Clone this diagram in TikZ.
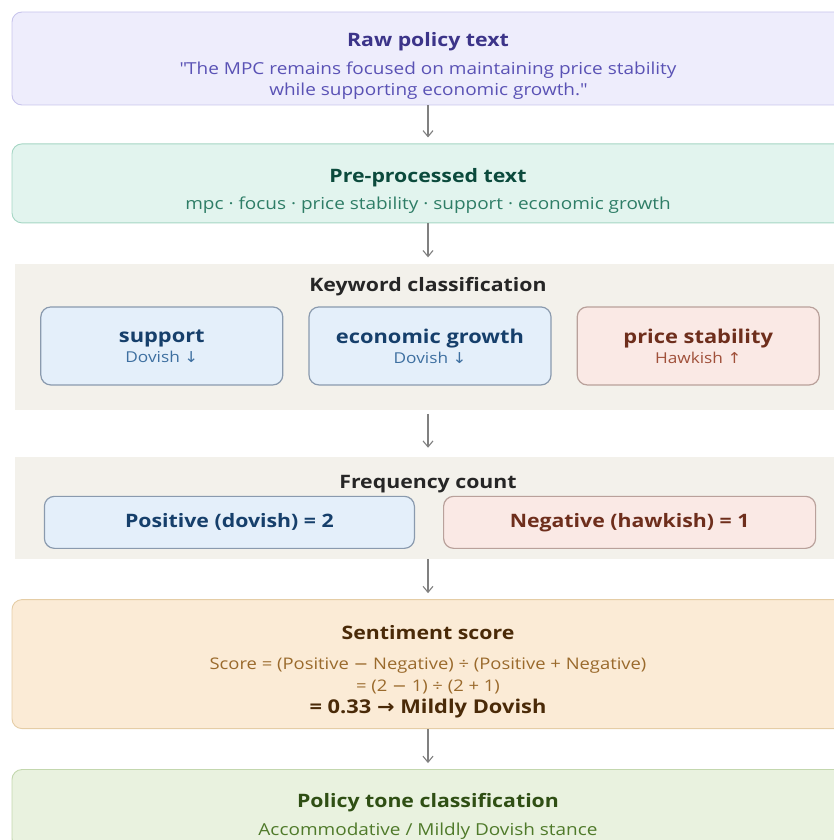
\documentclass[tikz,border=0pt]{standalone}
\usepackage{fontspec}
\setmainfont{Open Sans}[FakeStretch=1.15]
\newfontfamily\symfont{DejaVu Sans}[FakeStretch=1.1]
\usetikzlibrary{positioning,arrows.meta}

\definecolor{rawbg}{HTML}{EEEDFC}
\definecolor{rawline}{HTML}{C8C5EC}
\definecolor{rawtext}{HTML}{3C3489}
\definecolor{rawsub}{HTML}{5A52B5}
\definecolor{prebg}{HTML}{E2F4EE}
\definecolor{preline}{HTML}{A5D6C4}
\definecolor{pretext}{HTML}{0B4A3C}
\definecolor{presub}{HTML}{2E7D66}
\definecolor{panelbg}{HTML}{F3F1EB}
\definecolor{dovbg}{HTML}{E4EFFA}
\definecolor{dovline}{HTML}{8A9AAE}
\definecolor{dovtext}{HTML}{163F6B}
\definecolor{dovsub}{HTML}{3D6FA0}
\definecolor{hawkbg}{HTML}{FAE9E5}
\definecolor{hawkline}{HTML}{B9A19B}
\definecolor{hawktext}{HTML}{6E2E1C}
\definecolor{hawksub}{HTML}{A0503A}
\definecolor{sentbg}{HTML}{FBEBD6}
\definecolor{sentline}{HTML}{E5CDA6}
\definecolor{senttext}{HTML}{4A2A08}
\definecolor{sentsub}{HTML}{9A6A2C}
\definecolor{tonebg}{HTML}{E9F2DF}
\definecolor{toneline}{HTML}{C3D7AE}
\definecolor{tonetext}{HTML}{2F4F14}
\definecolor{tonesub}{HTML}{4F7A2A}
\definecolor{flowgray}{HTML}{808080}

\begin{document}
\begin{tikzpicture}[
  x=1pt,y=1pt,
  stage/.style={rounded corners=10pt,line width=0.9pt,minimum width=832pt,inner sep=0pt},
  panel/.style={fill=panelbg,minimum width=826pt,inner sep=0pt},
  kwbox/.style={rounded corners=10pt,line width=1.2pt,minimum width=242pt,minimum height=78pt,
    inner sep=0pt,align=center,font=\fontsize{15}{20}\selectfont},
  head/.style={font=\bfseries\fontsize{18.5}{22}\selectfont},
  note/.style={font=\fontsize{16.5}{21}\selectfont,align=center},
  flow/.style={draw=flowgray,line width=1.1pt,-{Straight Barb[length=6pt,width=10pt]},shorten >=6pt},
  node distance=38pt
]
  \useasboundingbox (0,0) rectangle (834,-840);

  % raw text
  \node[stage,fill=rawbg,draw=rawline,minimum height=93pt] (raw) at (428,-58.5) {};
  \node[head,text=rawtext] (rawhead) at ([yshift=-30pt]raw.north) {Raw policy text};
  \node[note,text=rawsub] (rawquote) at ([yshift=-69pt]raw.north)
    {\textquotedbl The MPC remains focused on maintaining price stability\\ while supporting economic growth.\textquotedbl};

  % pre-processing
  \node[stage,fill=prebg,draw=preline,minimum height=79pt,below=38pt of raw] (pre) {};
  \node[head,text=pretext] (prehead) at ([yshift=-34pt]pre.north) {Pre-processed text};
  \node[note,text=presub] (pretokens) at ([yshift=-62pt]pre.north)
    {mpc · focus · price stability · support · economic growth};

  % keyword classification
  \node[panel,minimum height=146pt,below=40pt of pre] (kw) {};
  \node[head,text=black!85] (kwhead) at ([yshift=-23pt]kw.north) {Keyword classification};
  \node[kwbox,fill=dovbg,draw=dovline,anchor=north] (growth) at ([xshift=2pt,yshift=-43pt]kw.north)
    {{\bfseries\fontsize{19}{22}\selectfont\color{dovtext}economic growth}\\{\color{dovsub}Dovish {\symfont↓}}};
  \node[kwbox,fill=dovbg,draw=dovline,left=25pt of growth] (support)
    {{\bfseries\fontsize{19}{22}\selectfont\color{dovtext}support}\\{\color{dovsub}Dovish {\symfont↓}}};
  \node[kwbox,fill=hawkbg,draw=hawkline,right=25pt of growth] (stability)
    {{\bfseries\fontsize{19}{22}\selectfont\color{hawktext}price stability}\\{\color{hawksub}Hawkish {\symfont↑}}};

  % frequency count
  \node[panel,minimum height=102pt,below=47pt of kw] (freq) {};
  \node[head,text=black!85] (freqhead) at ([yshift=-27pt]freq.north) {Frequency count};
  \node[kwbox,fill=dovbg,draw=dovline,minimum width=370pt,minimum height=52pt,anchor=north east,
    font=\bfseries\fontsize{18.5}{22}\selectfont,text=dovtext] (pos) at ([xshift=-13pt,yshift=-39pt]freq.north)
    {Positive (dovish) = 2};
  \node[kwbox,fill=hawkbg,draw=hawkline,minimum width=372pt,minimum height=52pt,anchor=north west,
    font=\bfseries\fontsize{18.5}{22}\selectfont,text=hawktext] (neg) at ([xshift=15pt,yshift=-39pt]freq.north)
    {Negative (hawkish) = 1};

  % sentiment score
  \node[stage,fill=sentbg,draw=sentline,minimum height=129pt,below=40pt of freq] (sent) {};
  \node[head,text=senttext] (senthead) at ([yshift=-33pt]sent.north) {Sentiment score};
  \node[note,font=\fontsize{16}{22}\selectfont,text=sentsub] (sentformula) at ([yshift=-77pt]sent.north)
    {Score = (Positive {\symfont−} Negative) ÷ (Positive + Negative)\\= (2 {\symfont−} 1) ÷ (2 + 1)};
  \node[font=\bfseries\fontsize{19}{22}\selectfont,text=senttext] (sentresult) at ([yshift=-109pt]sent.north)
    {= 0.33 {\symfont→} Mildly Dovish};

  % policy tone
  \node[stage,fill=tonebg,draw=toneline,minimum height=79pt,below=40pt of sent] (tone) {};
  \node[head,text=tonetext] (tonehead) at ([yshift=-34pt]tone.north) {Policy tone classification};
  \node[note,text=tonesub] (tonestance) at ([yshift=-62pt]tone.north)
    {Accommodative / Mildly Dovish stance};

  \draw[flow] (raw) -- (pre);
  \draw[flow] (pre) -- (kw);
  \draw[flow,shorten <=4pt,shorten >=9pt] (kw) -- (freq);
  \draw[flow] (freq) -- (sent);
  \draw[flow] (sent) -- (tone);
\end{tikzpicture}
\end{document}
